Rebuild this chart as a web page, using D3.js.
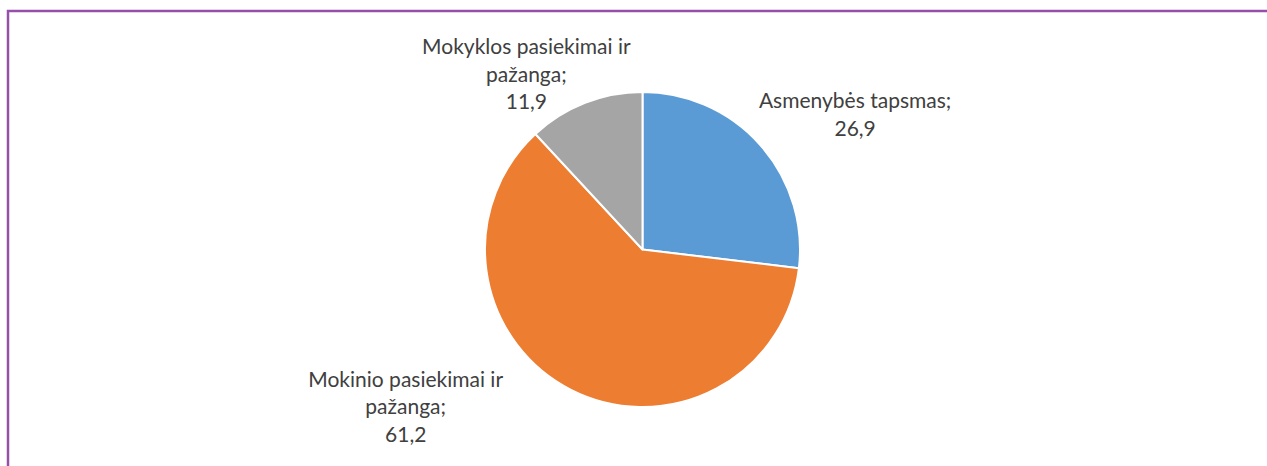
<!DOCTYPE html>
<html>
<head>
<meta charset="utf-8">
<script src="https://cdn.jsdelivr.net/npm/d3@7"></script>
<style>
  html, body { margin: 0; padding: 0; background: #fff; overflow: hidden; }
</style>
</head>
<body>
<div id="chart"></div>
<script>
const width = 1267;
const height = 466;

// data
const categories = ["Asmenybės tapsmas", "Mokinio pasiekimai ir pažanga", "Mokyklos pasiekimai ir pažanga"];
const values = [26.9, 61.2, 11.9];
const colors = ["#5B9BD5", "#ED7D31", "#A5A5A5"];
// how each label wraps (Excel style)
const labelLines = [
    ["Asmenybės tapsmas;", "26,9"],
    ["Mokinio pasiekimai ir", "pažanga;", "61,2"],
    ["Mokyklos pasiekimai ir", "pažanga;", "11,9"]
];

const cx = 642.5, cy = 249.5, radius = 157.5;
const lineH = 27.5;
// nudges from the outer-arc centroid to where excel puts the labels
const nudge = [[30, 27], [-126, -60], [-27, 52]];

const svg = d3.select("#chart").append("svg")
    .attr("width", width)
    .attr("height", height);

// purple frame (only top + left visible)
svg.append("rect")
    .attr("x", 8).attr("y", 11)
    .attr("width", width + 20).attr("height", height + 20)
    .attr("fill", "none")
    .attr("stroke", "#9650AC")
    .attr("stroke-width", 2.5);

const pie = d3.pie().sort(null).value(d => d);
const arcs = pie(values);

const arc = d3.arc().innerRadius(0).outerRadius(radius);
const labelArc = d3.arc().innerRadius(radius * 1.55).outerRadius(radius * 1.55);

const g = svg.append("g").attr("transform", `translate(${cx},${cy})`);

g.selectAll("path")
    .data(arcs)
    .join("path")
    .attr("d", arc)
    .attr("fill", (d, i) => colors[i])
    .attr("stroke", "#fff")
    .attr("stroke-width", 2)
    .attr("stroke-linejoin", "round");

g.selectAll("text.lbl")
    .data(arcs)
    .join("text")
    .attr("class", "lbl")
    .attr("text-anchor", "middle")
    .attr("font-family", "Lato, 'Open Sans', sans-serif")
    .attr("font-size", 21)
    .attr("fill", "#404040")
    .each(function (d, i) {
        const c = labelArc.centroid(d);
        const lines = labelLines[i];
        const x = c[0] + nudge[i][0];
        const y0 = c[1] + nudge[i][1] - (lines.length - 1) * lineH / 2;
        d3.select(this).selectAll("tspan")
            .data(lines)
            .join("tspan")
            .attr("x", x)
            .attr("y", (l, j) => y0 + j * lineH)
            .attr("dy", "0.35em")
            .text(l => l);
    });
</script>
</body>
</html>
